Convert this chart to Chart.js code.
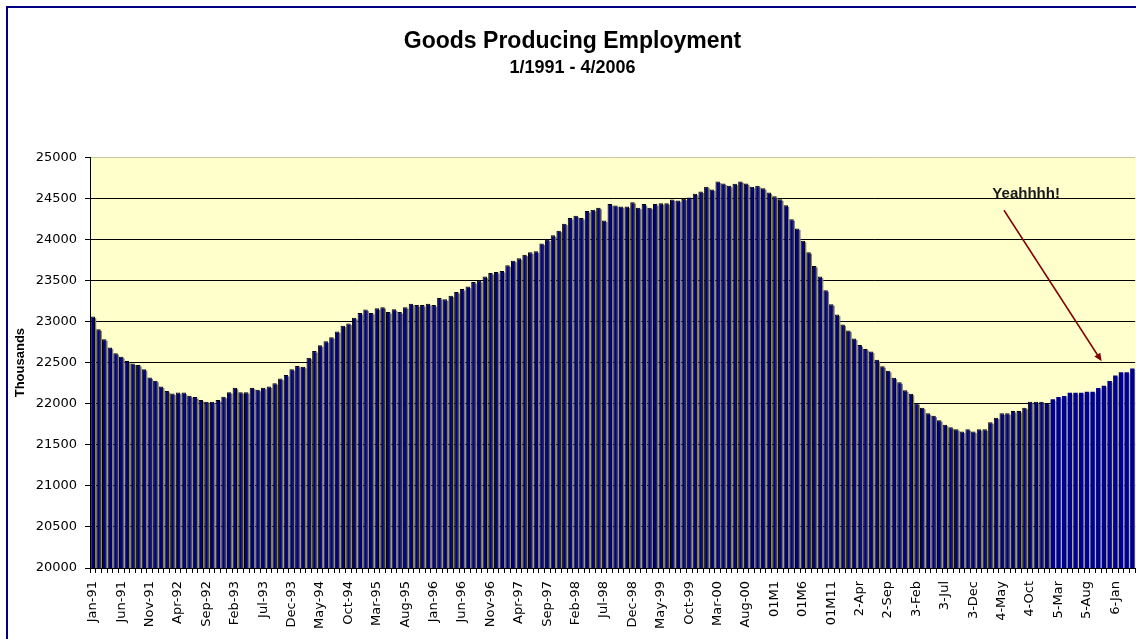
<!DOCTYPE html>
<html>
<head>
<meta charset="utf-8">
<title>Goods Producing Employment</title>
<script src="https://cdn.jsdelivr.net/npm/chart.js@4.4.1/dist/chart.umd.min.js"></script>
<style>
    html, body { margin: 0; padding: 0; background: #fff; overflow: hidden; }
    #frame {
        position: absolute; left: 6px; top: 6px; width: 1170px; height: 680px;
        border-left: 2px solid #000080; border-top: 2px solid #000080;
    }
    #wrap { position: absolute; left: 8px; top: 8px; width: 1148px; height: 640px; }
</style>
</head>
<body>
<div id="frame"></div>
<div id="wrap"><canvas id="chart"></canvas></div>
<script>
// --- Data (thousands, monthly 1/1991 - 4/2006) ---
const TICK_LABELS = [
    'Jan-91', 'Jun-91', 'Nov-91', 'Apr-92', 'Sep-92', 'Feb-93', 'Jul-93', 'Dec-93',
    'May-94', 'Oct-94', 'Mar-95', 'Aug-95', 'Jan-96', 'Jun-96', 'Nov-96', 'Apr-97',
    'Sep-97', 'Feb-98', 'Jul-98', 'Dec-98', 'May-99', 'Oct-99', 'Mar-00', 'Aug-00',
    '01M1', '01M6', '01M11', '2-Apr', '2-Sep', '3-Feb', '3-Jul', '3-Dec',
    '4-May', '4-Oct', '5-Mar', '5-Aug', '6-Jan'
];
const TICK_EVERY = 5; // one label every 5 months

const VALUES_1991_1995 = [
    23060, 22905, 22785, 22685, 22615, 22570, 22520, 22490, 22470, 22420, 22320, 22280,
    22210, 22155, 22125, 22135, 22135, 22095, 22080, 22045, 22025, 22025, 22045, 22085,
    22140, 22195, 22140, 22140, 22195, 22170, 22195, 22210, 22250, 22305, 22350, 22420,
    22460, 22450, 22560, 22640, 22710, 22760, 22810, 22880, 22950, 22975, 23045, 23105,
    23145, 23105, 23160, 23175, 23115, 23150, 23115, 23175, 23215, 23200, 23200, 23215
];
const VALUES_1996_2000 = [
    23200, 23285, 23270, 23315, 23360, 23395, 23425, 23480, 23495, 23547, 23591, 23603,
    23615, 23684, 23741, 23769, 23814, 23842, 23854, 23950, 23996, 24049, 24106, 24191,
    24259, 24288, 24259, 24344, 24361, 24385, 24231, 24429, 24413, 24401, 24401, 24453,
    24385, 24429, 24385, 24429, 24441, 24441, 24485, 24474, 24495, 24510, 24555, 24583,
    24640, 24608, 24705, 24680, 24652, 24677, 24705, 24680, 24640, 24652, 24623, 24570
];
const VALUES_2001_2006 = [
    24525, 24488, 24415, 24245, 24132, 23984, 23842, 23676, 23547, 23381, 23211, 23086,
    22964, 22891, 22794, 22713, 22666, 22636, 22534, 22456, 22400, 22316, 22260, 22164,
    22121, 22006, 21951, 21883, 21854, 21798, 21745, 21713, 21689, 21660, 21689, 21660,
    21689, 21689, 21774, 21830, 21883, 21883, 21911, 21911, 21951, 22024, 22024, 22024,
    22008, 22053, 22081, 22093, 22133, 22133, 22133, 22145, 22145, 22190, 22218, 22277,
    22344, 22384, 22384, 22429
];
const VALUES = [...VALUES_1991_1995, ...VALUES_1996_2000, ...VALUES_2001_2006];

const Y_MIN = 20000;
const Y_MAX = 25000;
const Y_STEP = 500;

// "Yeahhhh!" note, in (category index, value) units
const NOTE_TEXT = 'Yeahhhh!';
const NOTE_AT = [164.3, 24556];
const ARROW_FROM = [160.4, 24354];
const ARROW_TO = [177.6, 22515];

// --- Styles ---
const NAVY = '#000080';
const PLOT_BG = '#FFFFCC';
const PLAIN_FROM = 169; // last bars are drawn without the black outline

const categories = VALUES.map((v, i) => (i % TICK_EVERY === 0 ? TICK_LABELS[i / TICK_EVERY] : ''));

/**
 * Yellow plot area
 */
const plotBackground = {
    id: 'plotBackground',
    beforeDraw(chart) {
        const { ctx, chartArea: a } = chart;
        ctx.save();
        ctx.fillStyle = PLOT_BG;
        ctx.fillRect(a.left, a.top, a.right - a.left, a.bottom - a.top);
        ctx.restore();
    }
};

/**
 * Excel style gray drop shadow behind each bar
 */
const barShadow = {
    id: 'barShadow',
    beforeDatasetsDraw(chart) {
        const { ctx, chartArea: a } = chart;
        const meta = chart.getDatasetMeta(0);
        ctx.save();
        ctx.beginPath();
        ctx.rect(a.left, a.top, a.right - a.left, a.bottom - a.top);
        ctx.clip();
        meta.data.forEach((bar, i) => {
            const { x, y, base, width } = bar.getProps(['x', 'y', 'base', 'width'], true);
            ctx.fillStyle = i < PLAIN_FROM ? '#808080' : '#b4b4b4';
            ctx.fillRect(x - width / 2 + 1.2, y + 1.5, width, base - y - 1.5);
        });
        ctx.restore();
    }
};

/**
 * Text note with an arrow
 */
const noteArrow = {
    id: 'noteArrow',
    afterDatasetsDraw(chart) {
        const { ctx, scales: { x, y } } = chart;
        const px = p => [x.getPixelForValue(p[0]), y.getPixelForValue(p[1])];
        const [tx, ty] = px(NOTE_AT);
        const [x0, y0] = px(ARROW_FROM);
        const [x1, y1] = px(ARROW_TO);

        ctx.save();
        ctx.font = "bold 15px 'Liberation Sans', Arial, sans-serif";
        ctx.fillStyle = '#1a1a1a';
        ctx.textAlign = 'center';
        ctx.textBaseline = 'middle';
        ctx.fillText(NOTE_TEXT, tx, ty);

        ctx.strokeStyle = '#800000';
        ctx.fillStyle = '#800000';
        ctx.lineWidth = 1.5;
        const ang = Math.atan2(y1 - y0, x1 - x0);
        const head = 8;
        ctx.beginPath();
        ctx.moveTo(x0, y0);
        ctx.lineTo(x1 - Math.cos(ang) * head * 0.8, y1 - Math.sin(ang) * head * 0.8);
        ctx.stroke();
        ctx.beginPath();
        ctx.moveTo(x1, y1);
        ctx.lineTo(x1 - head * Math.cos(ang) + 3.5 * Math.sin(ang), y1 - head * Math.sin(ang) - 3.5 * Math.cos(ang));
        ctx.lineTo(x1 - head * Math.cos(ang) - 3.5 * Math.sin(ang), y1 - head * Math.sin(ang) + 3.5 * Math.cos(ang));
        ctx.closePath();
        ctx.fill();
        ctx.restore();
    }
};

const axisFont = { family: "'DejaVu Sans', sans-serif", size: 13 };

new Chart(document.getElementById('chart').getContext('2d'), {
    type: 'bar',
    data: {
        labels: categories,
        datasets: [{
            data: VALUES,
            backgroundColor: ctx => (ctx.dataIndex < PLAIN_FROM ? NAVY : '#00008c'),
            borderColor: '#000000',
            borderWidth: ctx => (ctx.dataIndex < PLAIN_FROM ? 1 : 0),
            barPercentage: 0.78,
            categoryPercentage: 1.0
        }]
    },
    options: {
        responsive: true,
        maintainAspectRatio: false,
        animation: false,
        layout: { padding: { left: 0, right: 19, top: 0, bottom: 0 } },
        plugins: {
            legend: { display: false },
            tooltip: { enabled: false },
            title: {
                display: true,
                text: 'Goods Producing Employment',
                color: '#000',
                font: { family: "'Liberation Sans', Arial, sans-serif", size: 23, weight: 'bold', lineHeight: 1.2 },
                padding: { top: 20, bottom: 0 }
            },
            subtitle: {
                display: true,
                text: '1/1991 - 4/2006',
                color: '#000',
                font: { family: "'Liberation Sans', Arial, sans-serif", size: 18, weight: 'bold', lineHeight: 1.2 },
                padding: { top: 2, bottom: 78 }
            }
        },
        scales: {
            x: {
                ticks: {
                    autoSkip: false,
                    minRotation: 90,
                    maxRotation: 90,
                    color: '#000',
                    font: axisFont,
                    padding: 8,
                    callback: (value, index) => categories[index]
                },
                grid: { drawOnChartArea: false, offset: true, tickLength: 5, color: '#000' },
                border: { color: '#000', width: 1 },
                afterFit: scale => { scale.height = 80; }
            },
            y: {
                min: Y_MIN,
                max: Y_MAX,
                ticks: {
                    stepSize: Y_STEP,
                    color: '#000',
                    font: axisFont,
                    padding: 8,
                    callback: value => String(value)
                },
                grid: {
                    color: ctx => (ctx.tick && ctx.tick.value === Y_MAX ? '#c8c8a0' : '#000'),
                    tickColor: '#000',
                    tickLength: 5,
                    lineWidth: 1
                },
                border: { color: '#000', width: 1 },
                title: {
                    display: true,
                    text: 'Thousands',
                    color: '#000',
                    font: { family: "'Liberation Sans', Arial, sans-serif", size: 13, weight: 'bold', lineHeight: 1.2 },
                    padding: { top: 5, bottom: 0 }
                },
                afterFit: scale => { scale.width = 82; }
            }
        }
    },
    plugins: [plotBackground, barShadow, noteArrow]
});
</script>
</body>
</html>
